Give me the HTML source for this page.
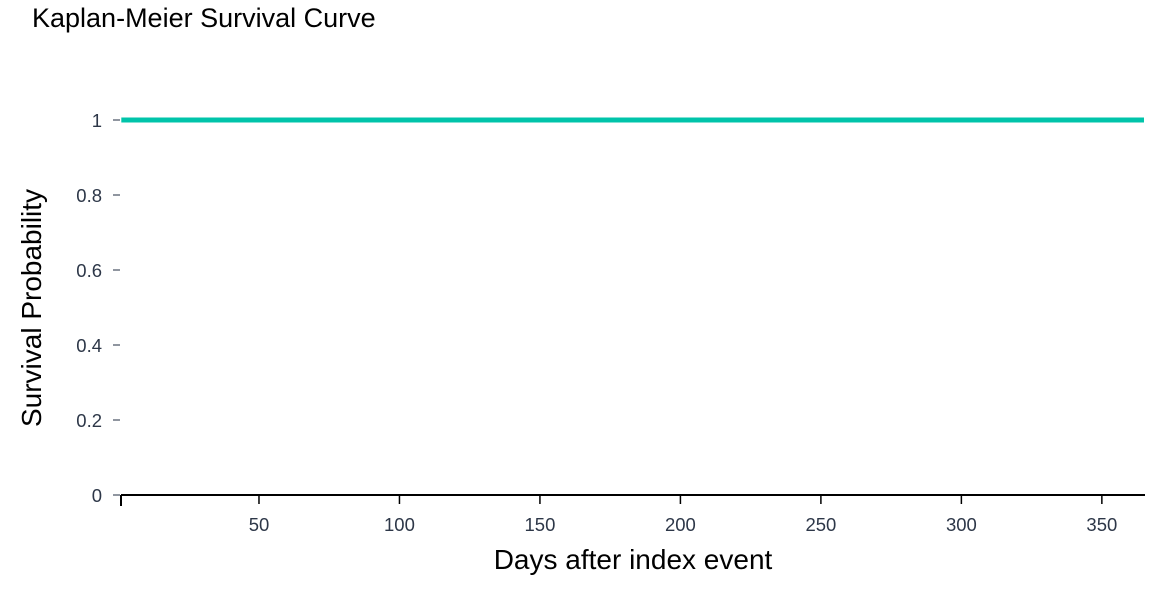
<!DOCTYPE html>
<html><head><meta charset="utf-8"><style>
body{margin:0;background:#fff;width:1170px;height:584px;overflow:hidden;font-family:"Liberation Sans",sans-serif}
</style></head><body>
<svg width="1170" height="584" id="chart">
<text x="32" y="27" font-size="27" fill="#000">Kaplan-Meier Survival Curve</text>
<text x="633" y="569" font-size="28" text-anchor="middle" fill="#000">Days after index event</text>
<text transform="translate(41,308) rotate(-90)" font-size="28" text-anchor="middle" fill="#000">Survival Probability</text>
<g id="axes"></g>
<g id="series"></g>
</svg>
<script>
const days=[1,365];
const survival=[1,1];
const xTicks=[50,100,150,200,250,300,350];
const yTicks=[0,0.2,0.4,0.6,0.8,1];
const yTickLabels=["0","0.2","0.4","0.6","0.8","1"];
const NS="http://www.w3.org/2000/svg";
const x=d=>118.5+d*(1025.5/365);
const y=v=>495-v*375;
function mk(t,a,p){const e=document.createElementNS(NS,t);for(const k in a)e.setAttribute(k,a[k]);p.appendChild(e);return e;}
const axes=document.getElementById('axes');
const xl=mk('line',{x1:121,x2:1145,y1:495,y2:495,stroke:'#000','stroke-width':2},axes);


const t0=mk('line',{x1:121,x2:121,y1:495,y2:506,stroke:'#000','stroke-width':2},axes);


xTicks.forEach(d=>{
  const l=mk('line',{x1:x(d),x2:x(d),y1:495,y2:504,stroke:'#000','stroke-width':1.5},axes);
  
  
  const t=mk('text',{x:x(d),y:531,'font-size':18.5,'text-anchor':'middle',fill:'#2d3748'},axes);
  t.textContent=d;
  
  
});
yTicks.forEach((v,i)=>{
  const l=mk('line',{x1:113,x2:120,y1:y(v),y2:y(v),stroke:'#6b7280','stroke-width':1.5},axes);
  
  
  const t=mk('text',{x:102,y:y(v)+7,'font-size':18.5,'text-anchor':'end',fill:'#2d3748'},axes);
  t.textContent=yTickLabels[i];
  
  
});
const s=document.getElementById('series');
let dstr='M'+x(days[0])+','+y(survival[0]);
for(let i=1;i<days.length;i++){dstr+=' H'+x(days[i])+' V'+y(survival[i]);}
const p=mk('path',{d:dstr,fill:'none',stroke:'#00c4aa','stroke-width':5},s);


</script>
</body></html>
